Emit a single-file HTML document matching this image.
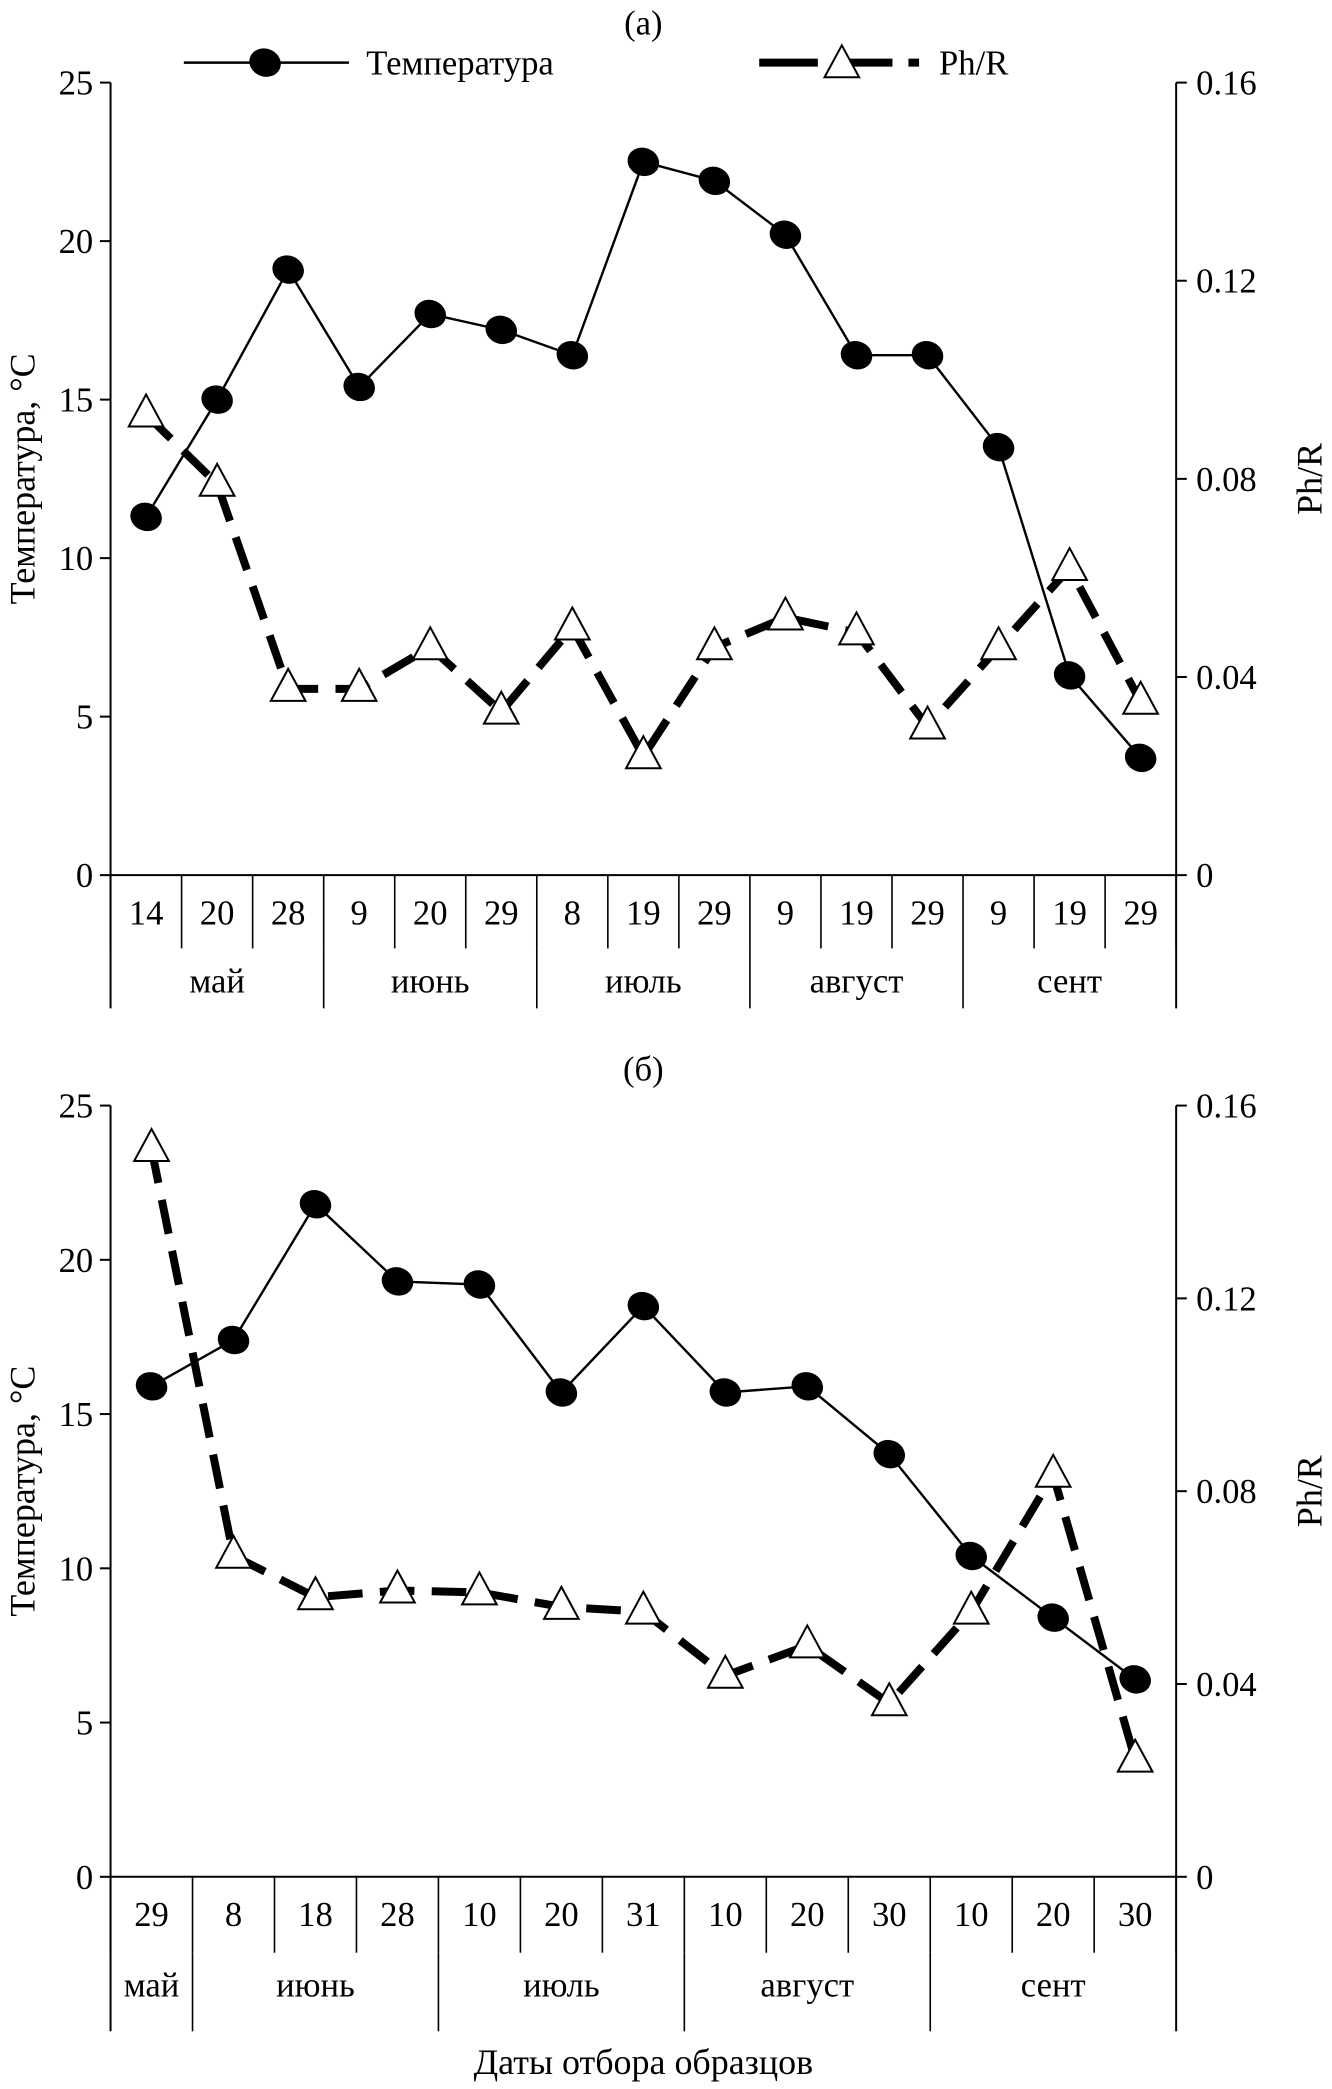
<!DOCTYPE html>
<html><head><meta charset="utf-8">
<style>
html,body{margin:0;padding:0;background:#fff;}
svg{display:block;font-family:"Liberation Serif","DejaVu Serif",serif;}
svg text{font-family:"Liberation Serif","DejaVu Serif",serif;}
</style></head>
<body>
<svg id="chart" width="1332" height="2089" viewBox="0 0 1000 1568.3" xmlns="http://www.w3.org/2000/svg"></svg>
<script>
const datesA = ["14","20","28","9","20","29","8","19","29","9","19","29","9","19","29"];
const monthsA = ["май","июнь","июль","август","сент"];
const monthSpanA = [3,3,3,3,3];
const tempA = [11.3,15.0,19.1,15.4,17.7,17.2,16.4,22.5,21.9,20.2,16.4,16.4,13.5,6.3,3.7];
const phrA = [0.093,0.079,0.0376,0.0376,0.046,0.033,0.050,0.024,0.046,0.052,0.049,0.030,0.046,0.062,0.035];

const datesB = ["29","8","18","28","10","20","31","10","20","30","10","20","30"];
const monthsB = ["май","июнь","июль","август","сент"];
const monthSpanB = [1,3,3,3,3];
const tempB = [15.9,17.4,21.8,19.3,19.2,15.7,18.5,15.7,15.9,13.7,10.4,8.4,6.4];
const phrB = [0.151,0.0666,0.058,0.0594,0.059,0.056,0.055,0.0417,0.048,0.036,0.055,0.0834,0.0243];

const leftTicks = [0,5,10,15,20,25];
const rightTicks = [0,0.04,0.08,0.12,0.16];

const svg = document.getElementById('chart');
const NS = "http://www.w3.org/2000/svg";
function mk(tag, attrs, parent){
  const e = document.createElementNS(NS, tag);
  for (const k in attrs) e.setAttribute(k, attrs[k]);
  (parent||svg).appendChild(e);
  return e;
}
function txt(x,y,s,size,anchor,parent){
  const t = mk('text',{x:x,y:y,'font-size':size,'text-anchor':anchor||'middle','font-family':'"Liberation Serif","DejaVu Serif",serif'},parent);
  t.textContent = s;
  return t;
}

function panel(cfg){
  const g = mk('g',{});
  
  
  const L=83, R=883, top=cfg.top, bot=cfg.bot;
  const n = cfg.dates.length, cw=(R-L)/n;
  const yL = v => bot - v/25*(bot-top);
  const yR = v => bot - v/0.16*(bot-top);
  const xC = i => L + cw*(i+0.5);
  mk('line',{x1:L,y1:top,x2:L,y2:cfg.rowEnd,stroke:'#000','stroke-width':1.5},g);
  mk('line',{x1:R,y1:top,x2:R,y2:cfg.rowEnd,stroke:'#000','stroke-width':1.5},g);
  mk('line',{x1:L,y1:bot,x2:R,y2:bot,stroke:'#000','stroke-width':1.5},g);
  leftTicks.forEach(v=>{
    mk('line',{x1:L-8,y1:yL(v),x2:L,y2:yL(v),stroke:'#000','stroke-width':1.5},g);
    const t=txt(L-13,yL(v)+9,String(v),26,'end',g);
    
    
  });
  rightTicks.forEach(v=>{
    mk('line',{x1:R,y1:yR(v),x2:R+8,y2:yR(v),stroke:'#000','stroke-width':1.5},g);
    const t=txt(R+15,yR(v)+9,v===0?'0':v.toFixed(2),26,'start',g);
    
    
  });
  for(let i=0;i<=n;i++){
    mk('line',{x1:L+cw*i,y1:bot,x2:L+cw*i,y2:cfg.dateEnd,stroke:'#000','stroke-width':1.2},g);
  }
  cfg.dates.forEach((d,i)=>{
    const t=txt(xC(i),bot+37,d,26,'middle',g);
    
    
  });
  let acc=0;
  cfg.months.forEach((m,j)=>{
    const s=acc; acc+=cfg.spans[j];
    if(j>0) mk('line',{x1:L+cw*s,y1:cfg.dateEnd,x2:L+cw*s,y2:cfg.rowEnd,stroke:'#000','stroke-width':1.2},g);
    const t=txt(L+cw*(s+acc)/2,cfg.dateEnd+33,m,26,'middle',g);
    
    
  });
  const lt=txt(0,0,'Температура, °C',27,'middle',g);
  lt.setAttribute('transform',`translate(26,${(top+bot)/2}) rotate(-90)`);
  
  
  const rt=txt(0,0,'Ph/R',27,'middle',g);
  rt.setAttribute('transform',`translate(992,${(top+bot)/2}) rotate(-90)`);
  
  
  const phPts = cfg.phr.map((v,i)=>`${xC(i)},${yR(v)}`).join(' ');
  const pl = mk('polyline',{points:phPts,fill:'none',stroke:'#000','stroke-width':6,'stroke-dasharray':'26,13'},g);
  
  
  const tPts = cfg.temp.map((v,i)=>`${xC(i)},${yL(v)}`).join(' ');
  const tl = mk('polyline',{points:tPts,fill:'none',stroke:'#000','stroke-width':1.8},g);
  
  
  cfg.phr.forEach((v,i)=>{
    const x=xC(i), y=yR(v);
    const p=mk('polygon',{points:`${x},${y-15} ${x-13},${y+9} ${x+13},${y+9}`,fill:'#fff',stroke:'#000','stroke-width':1.5},g);
    
    
  });
  cfg.temp.forEach((v,i)=>{
    const e=mk('ellipse',{cx:xC(i),cy:yL(v),rx:12,ry:10.5,fill:'#000',transform:`rotate(20 ${xC(i)} ${yL(v)})`},g);
    
    
  });
  const ti=txt(cfg.titleX,cfg.titleY,cfg.title,26,'middle',g);
  
  
}

panel({name:'panel-a',top:62,bot:657,dateEnd:712,rowEnd:757,dates:datesA,months:monthsA,spans:monthSpanA,temp:tempA,phr:phrA,title:'(а)',titleX:483,titleY:26});
panel({name:'panel-b',top:830,bot:1409,dateEnd:1466,rowEnd:1525,dates:datesB,months:monthsB,spans:monthSpanB,temp:tempB,phr:phrB,title:'(б)',titleX:483,titleY:811});

const lg = mk('g',{});


mk('line',{x1:138,y1:47,x2:262,y2:47,stroke:'#000','stroke-width':1.8},lg);
mk('ellipse',{cx:199,cy:47,rx:12,ry:10.5,fill:'#000',transform:'rotate(20 199 47)'},lg);
const l1=txt(275,56,'Температура',26,'start',lg);


mk('line',{x1:570,y1:47,x2:690,y2:47,stroke:'#000','stroke-width':6,'stroke-dasharray':'44,12'},lg);
mk('polygon',{points:'632,34 619,58 645,58',fill:'#fff',stroke:'#000','stroke-width':1.5},lg);
const l2=txt(705,56,'Ph/R',26,'start',lg);



const xt=txt(483,1557,'Даты отбора образцов',27,'middle');


</script>
</body></html>
